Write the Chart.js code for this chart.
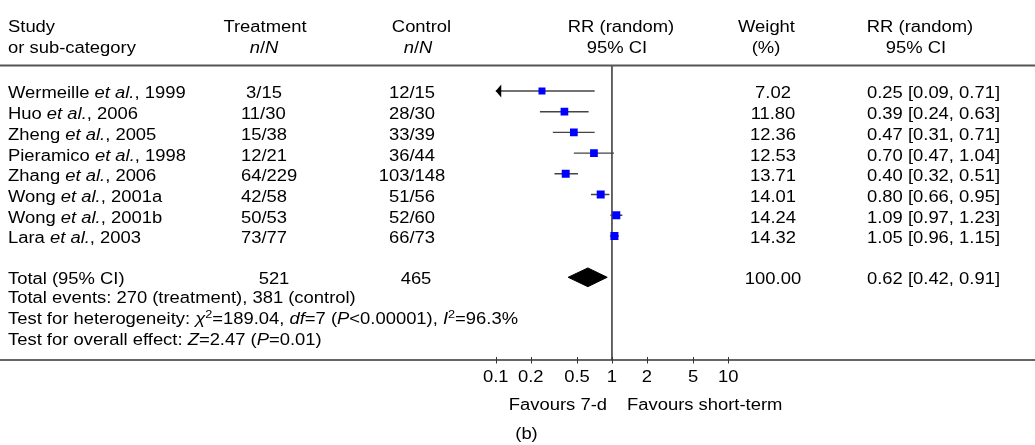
<!DOCTYPE html>
<html>
<head>
<meta charset="utf-8">
<title>Forest plot (b)</title>
<script src="https://cdn.jsdelivr.net/npm/chart.js@4/dist/chart.umd.min.js"></script>
<style>
  body { margin: 0; background: #fff; }
  #wrap { width: 1035px; height: 445px; }
</style>
</head>
<body>
<div id="wrap"><canvas id="forest" width="1035" height="445"></canvas></div>
<script>
// study data
const studies = ['Wermeille', 'Huo', 'Zheng', 'Pieramico', 'Zhang', 'Wong', 'Wong', 'Lara'];
const years = ['1999', '2006', '2005', '1998', '2006', '2001a', '2001b', '2003'];
const treatEvents = [3, 11, 15, 12, 64, 42, 50, 73];
const treatTotal = [15, 30, 38, 21, 229, 58, 53, 77];
const ctrlEvents = [12, 28, 33, 36, 103, 51, 52, 66];
const ctrlTotal = [15, 30, 39, 44, 148, 56, 60, 73];
const weights = [7.02, 11.80, 12.36, 12.53, 13.71, 14.01, 14.24, 14.32];
const rr = [0.25, 0.39, 0.47, 0.70, 0.40, 0.80, 1.09, 1.05];
const ciLow = [0.09, 0.24, 0.31, 0.47, 0.32, 0.66, 0.97, 0.96];
const ciHigh = [0.71, 0.63, 0.71, 1.04, 0.51, 0.95, 1.23, 1.15];

// pooled result
const totalTreat = 521;
const totalCtrl = 465;
const totalWeight = 100.00;
const totalRR = 0.62;
const totalLow = 0.42;
const totalHigh = 0.91;
const totalRow = 9;

// x axis
const axisTicks = [0.1, 0.2, 0.5, 1, 2, 5, 10];
const axisLabels = ['0.1', '0.2', '0.5', '1', '2', '5', '10'];
const axisMin = 0.1;

// layout (pixels)
const W = 1035;
const oneX = 613;          // pixel of RR = 1
const decade = 117.5;      // pixels per log decade
const firstRowY = 86.7;
const rowStep = 21.03;
const axisY = 360;
const headerLineY = 65.5;
const SX = 1.15;           // text in the figure is stretched horizontally
const FS = 16;
const FONT = '"Liberation Sans", Arial, Helvetica, sans-serif';
const TXT = '#000';

function font(style, size) {
    return (style === 'i' ? 'italic ' : '') + size + 'px ' + FONT;
}

// parts: [[text, style]] with style '' | 'i' | 's' (superscript)
function drawParts(ctx, parts, x, y, align) {
    ctx.save();
    ctx.scale(SX, 1);
    ctx.fillStyle = TXT;
    ctx.textBaseline = 'alphabetic';
    ctx.textAlign = 'left';
    let w = 0;
    parts.forEach(p => {
        ctx.font = p[1] === 's' ? font('', 11) : font(p[1], FS);
        w += ctx.measureText(p[0]).width;
    });
    let cx = x / SX;
    if (align === 'center') cx -= w / 2;
    if (align === 'right') cx -= w;
    parts.forEach(p => {
        ctx.font = p[1] === 's' ? font('', 11) : font(p[1], FS);
        ctx.fillText(p[0], cx, p[1] === 's' ? y - 6.5 : y);
        cx += ctx.measureText(p[0]).width;
    });
    ctx.restore();
}

function txt(ctx, s, x, y, align) {
    drawParts(ctx, [[s, '']], x, y, align);
}

const nN = [['n', 'i'], ['/', ''], ['N', 'i']];

const forestPlugin = {
    id: 'forestTable',
    beforeDatasetsDraw(chart) {
        const ctx = chart.ctx;
        const xs = chart.scales.x;
        const px = xs.getPixelForValue(1);
        ctx.save();
        ctx.strokeStyle = '#333';
        ctx.lineWidth = 1.5;
        ctx.beginPath();
        ctx.moveTo(px, headerLineY);
        ctx.lineTo(px, axisY);
        ctx.stroke();
        ctx.restore();
    },
    afterDraw(chart) {
        const ctx = chart.ctx;
        const xs = chart.scales.x;
        const ys = chart.scales.y;

        // arrows for CIs running past the axis
        ctx.save();
        ctx.fillStyle = '#000';
        ciLow.forEach((lo, i) => {
            if (lo < axisMin) {
                const ax = xs.getPixelForValue(axisMin);
                const ay = ys.getPixelForValue(i);
                ctx.beginPath();
                ctx.moveTo(ax, ay);
                ctx.lineTo(ax + 5.5, ay - 6.5);
                ctx.lineTo(ax + 5.5, ay + 6.5);
                ctx.closePath();
                ctx.fill();
            }
        });

        // rules
        ctx.strokeStyle = '#555';
        ctx.lineWidth = 2;
        ctx.beginPath();
        ctx.moveTo(0, headerLineY);
        ctx.lineTo(W, headerLineY);
        ctx.stroke();
        ctx.strokeStyle = '#333';
        ctx.lineWidth = 1.4;
        ctx.beginPath();
        ctx.moveTo(0, axisY);
        ctx.lineTo(W, axisY);
        ctx.stroke();
        ctx.lineWidth = 1;
        axisTicks.forEach(v => {
            const tx = Math.round(xs.getPixelForValue(v)) + 0.5;
            ctx.beginPath();
            ctx.moveTo(tx, axisY - 3);
            ctx.lineTo(tx, axisY + 3.5);
            ctx.stroke();
        });
        ctx.restore();

        axisTicks.forEach((v, i) => txt(ctx, axisLabels[i], xs.getPixelForValue(v), 382, 'center'));
        txt(ctx, 'Favours 7-d', 607, 410, 'right');
        txt(ctx, 'Favours short-term', 627, 410, 'left');
        txt(ctx, '(b)', 526.5, 439, 'center');

        // header
        txt(ctx, 'Study', 8, 32, 'left');
        txt(ctx, 'or sub-category', 8, 53, 'left');
        txt(ctx, 'Treatment', 265, 32, 'center');
        drawParts(ctx, nN, 264, 53, 'center');
        txt(ctx, 'Control', 421.5, 32, 'center');
        drawParts(ctx, nN, 418, 53, 'center');
        txt(ctx, 'RR (random)', 621, 32, 'center');
        txt(ctx, '95% CI', 617, 53, 'center');
        txt(ctx, 'Weight', 766.5, 32, 'center');
        txt(ctx, '(%)', 766, 53, 'center');
        txt(ctx, 'RR (random)', 920, 32, 'center');
        txt(ctx, '95% CI', 916, 53, 'center');

        // study rows
        studies.forEach((s, i) => {
            const by = ys.getPixelForValue(i) + 7.5;
            drawParts(ctx, [[s + ' ', ''], ['et al.', 'i'], [', ' + years[i], '']], 8, by, 'left');
            txt(ctx, (treatEvents[i] < 10 ? ' ' : '') + treatEvents[i] + '/' + treatTotal[i], 241, by, 'left');
            txt(ctx, ctrlEvents[i] + '/' + ctrlTotal[i], 412, by, 'center');
            txt(ctx, weights[i].toFixed(2), 773, by, 'center');
            txt(ctx, rr[i].toFixed(2) + ' [' + ciLow[i].toFixed(2) + ', ' + ciHigh[i].toFixed(2) + ']', 867, by, 'left');
        });

        // total row
        const ty = ys.getPixelForValue(totalRow) + 6.5;
        txt(ctx, 'Total (95% CI)', 8, ty, 'left');
        txt(ctx, String(totalTreat), 274, ty, 'center');
        txt(ctx, String(totalCtrl), 416, ty, 'center');
        txt(ctx, totalWeight.toFixed(2), 773, ty, 'center');
        txt(ctx, totalRR.toFixed(2) + ' [' + totalLow.toFixed(2) + ', ' + totalHigh.toFixed(2) + ']', 867, ty, 'left');

        // footnotes
        txt(ctx, 'Total events: 270 (treatment), 381 (control)', 8, 303, 'left');
        drawParts(ctx, [['Test for heterogeneity: ', ''], ['\u03c7', 'i'], ['2', 's'], ['=189.04, ', ''],
            ['df', 'i'], ['=7 (', ''], ['P', 'i'], ['<0.00001), ', ''], ['I', 'i'], ['2', 's'], ['=96.3%', '']], 8, 324, 'left');
        drawParts(ctx, [['Test for overall effect: ', ''], ['Z', 'i'], ['=2.47 (', ''], ['P', 'i'], ['=0.01)', '']], 8, 345, 'left');
    }
};

// datasets built from the arrays
const datasets = [];
datasets.push({
    type: 'scatter',
    label: 'RR',
    data: rr.map((v, i) => ({ x: v, y: i })),
    pointStyle: 'rect',
    pointRadius: weights.map(w => (6 + w * 0.14) / Math.SQRT2),
    backgroundColor: '#0000ff',
    borderWidth: 0,
    order: 0
});
rr.forEach((v, i) => {
    datasets.push({
        type: 'line',
        label: 'CI ' + i,
        data: [{ x: Math.max(ciLow[i], axisMin), y: i }, { x: ciHigh[i], y: i }],
        borderColor: '#444',
        borderWidth: 1.4,
        pointRadius: 0,
        fill: false,
        order: 1
    });
});
const dh = 9.5 / rowStep;
datasets.push({
    type: 'line',
    label: 'Total',
    data: [
        { x: totalLow, y: totalRow },
        { x: totalRR, y: totalRow - dh },
        { x: totalHigh, y: totalRow },
        { x: totalRR, y: totalRow + dh },
        { x: totalLow, y: totalRow }
    ],
    borderColor: '#000',
    backgroundColor: '#000',
    borderWidth: 1,
    pointRadius: 0,
    tension: 0,
    fill: 'shape',
    order: 0
});

const yMin = -firstRowY / rowStep;
const yMax = yMin + axisY / rowStep;

new Chart(document.getElementById('forest'), {
    type: 'scatter',
    data: { datasets: datasets },
    options: {
        responsive: false,
        animation: false,
        devicePixelRatio: 1,
        events: [],
        layout: { padding: { left: 0, right: 0, top: 0, bottom: 445 - axisY } },
        scales: {
            x: {
                type: 'logarithmic',
                display: false,
                bounds: 'data',
                min: Math.pow(10, -oneX / decade),
                max: Math.pow(10, (W - oneX) / decade)
            },
            y: {
                type: 'linear',
                display: false,
                reverse: true,
                bounds: 'data',
                min: yMin,
                max: yMax
            }
        },
        plugins: {
            legend: { display: false },
            tooltip: { enabled: false }
        }
    },
    plugins: [forestPlugin]
});
</script>
</body>
</html>
